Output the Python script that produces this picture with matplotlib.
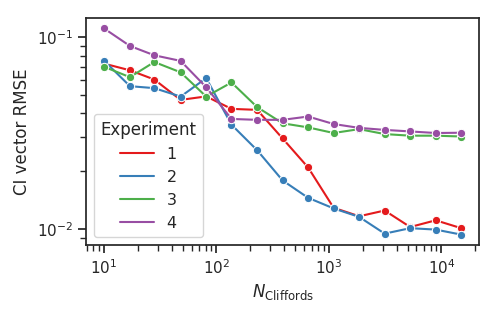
import numpy as np
import pandas as pd
import matplotlib
matplotlib.use("Agg")
import matplotlib.pyplot as plt
from matplotlib.lines import Line2D
import seaborn as sns

# Number of Cliffords (shared x values)
n_cliffords = [10, 17, 28, 48, 81, 136, 230, 387, 653, 1100, 1856, 3129, 5276, 8895, 15000]

# RMSE per experiment
rmse_1 = [0.0726, 0.0670, 0.0600, 0.0470, 0.0490, 0.0422, 0.0417, 0.0296, 0.0209,
          0.0129, 0.01165, 0.01248, 0.01024, 0.0111, 0.0101]
rmse_2 = [0.0752, 0.0554, 0.0541, 0.0489, 0.0610, 0.0349, 0.0257, 0.0179, 0.01453,
          0.0128, 0.01156, 0.00946, 0.0101, 0.00993, 0.00935]
rmse_3 = [0.0699, 0.0617, 0.0740, 0.0654, 0.0489, 0.0579, 0.0431, 0.0355, 0.0338,
          0.0316, 0.0331, 0.0312, 0.0306, 0.0306, 0.0303]
rmse_4 = [0.1107, 0.0897, 0.0802, 0.0750, 0.0547, 0.0374, 0.0370, 0.0370, 0.0385,
          0.0352, 0.0336, 0.0328, 0.0322, 0.0316, 0.0317]

experiments = [1, 2, 3, 4]
series = [rmse_1, rmse_2, rmse_3, rmse_4]

# Long-format table for seaborn
frames = []
for exp, vals in zip(experiments, series):
    frames.append(pd.DataFrame({"N": n_cliffords, "RMSE": vals, "Experiment": exp}))
df = pd.concat(frames, ignore_index=True)

sns.set_theme(style="ticks", context="notebook")
colors = sns.color_palette("Set1", 4)

fig = plt.figure(figsize=(4.98, 3.12), dpi=100)
ax = fig.add_axes([0.173, 0.215, 0.789, 0.727])

sns.lineplot(data=df, x="N", y="RMSE", hue="Experiment", palette=colors,
             marker="o", ax=ax, legend=False)

ax.set_xscale("log")
ax.set_yscale("log")
ax.set_xlabel(r"$N_{\rm Cliffords}$")
ax.set_ylabel("CI vector RMSE")

# legend with plain lines (no markers)
handles = [Line2D([], [], color=c, lw=1.5) for c in colors]
ax.legend(handles, [str(e) for e in experiments], title="Experiment",
          loc="lower left", fontsize=11.5, title_fontsize=12, handlelength=2.1)

fig.savefig("out.png", dpi=100)
